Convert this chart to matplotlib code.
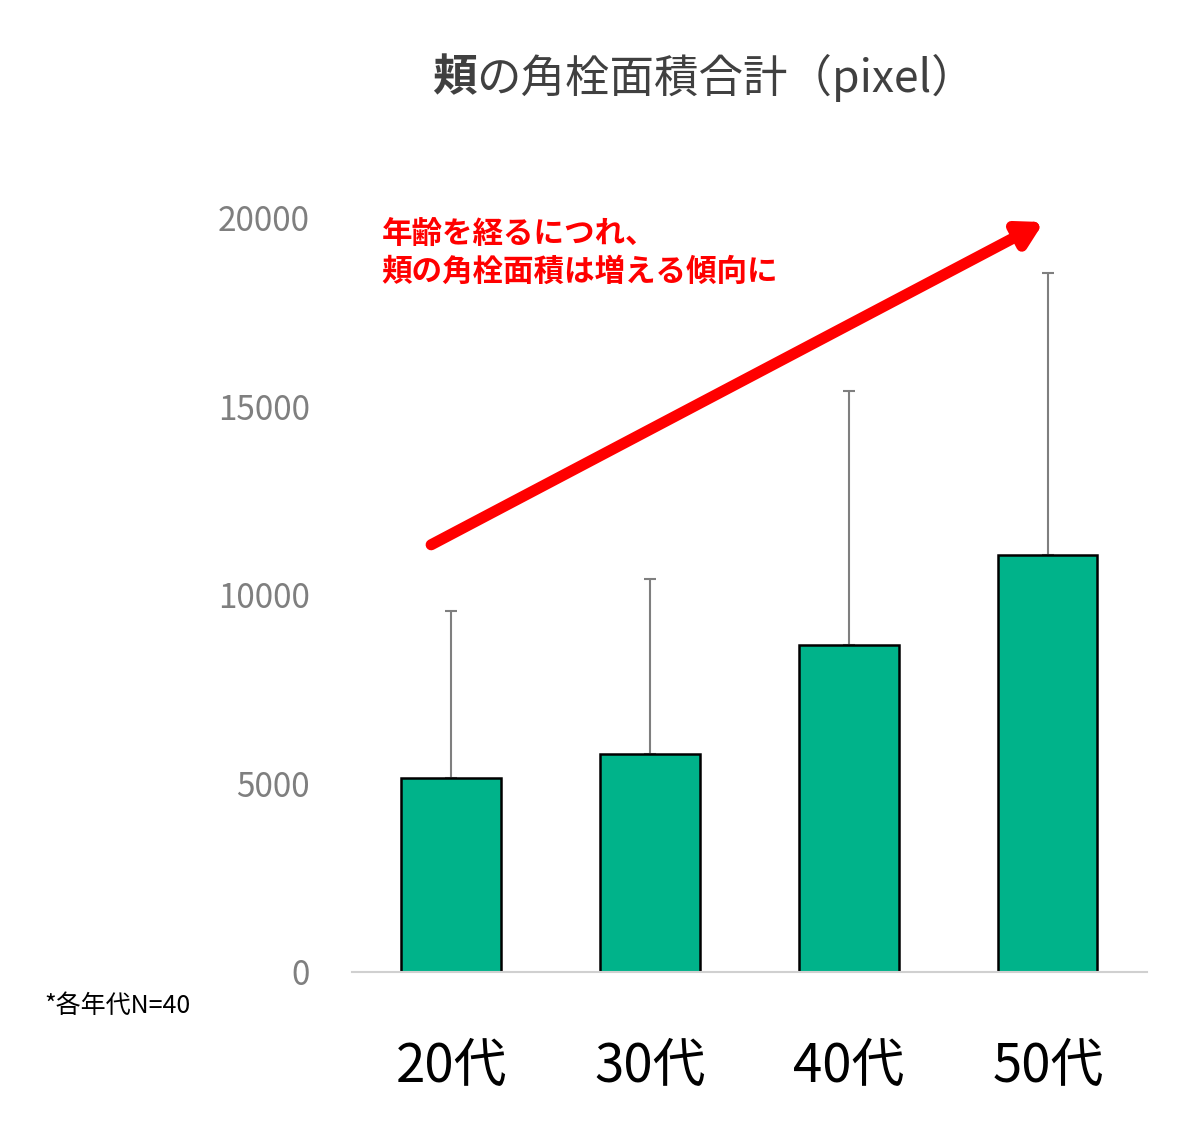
import matplotlib
matplotlib.use("Agg")
import matplotlib.pyplot as plt

plt.rcParams["font.family"] = "Noto Sans CJK JP"

categories = ["20代", "30代", "40代", "50代"]
means = [5150, 5780, 8670, 11060]
sd = [4430, 4640, 6740, 7480]
yticks = [0, 5000, 10000, 15000, 20000]

fig = plt.figure(figsize=(12, 11.21), dpi=100)
ax = fig.add_axes([0.293, 0.133, 0.663, 0.6726])

x = range(len(categories))
ax.bar(x, means, width=0.5, color="#00B38A", edgecolor="black", linewidth=1.8, zorder=2)
ax.errorbar(x, means, yerr=[[0] * len(sd), sd], fmt="none", ecolor="#7f7f7f",
            elinewidth=1.5, capsize=4, capthick=1.5, zorder=1)

ax.set_xlim(-0.5, 3.5)
ax.set_ylim(0, 20000)
ax.set_yticks(yticks)
ax.set_yticklabels([str(v) for v in yticks], fontsize=24, color="#7f7f7f")
ax.set_xticks(list(x))
ax.set_xticklabels(categories, fontsize=38, color="black")
ax.tick_params(axis="both", length=0)
ax.tick_params(axis="y", pad=30)
ax.tick_params(axis="x", pad=48)
for s in ["top", "right", "left"]:
    ax.spines[s].set_visible(False)
ax.spines["bottom"].set_color("#d0d0d0")
ax.spines["bottom"].set_linewidth(1.5)

# trend arrow
ax.annotate("", xy=(2.98, 19890), xytext=(-0.1, 11330),
            arrowprops=dict(arrowstyle="-|>,head_length=1.4,head_width=0.8",
                            color="#ff0000", lw=8, shrinkA=0, shrinkB=0),
            annotation_clip=False)
ax.text(-0.35, 20000, "年齢を経るにつれ、\n頬の角栓面積は増える傾向に", color="#ff0000",
        fontsize=22, fontweight="bold", va="top", ha="left", linespacing=1.25)

# title: first char bold
fig.canvas.draw()
r = fig.canvas.get_renderer()
t1 = fig.text(0.36, 0.93, "頬", fontsize=32, fontweight="bold", color="#404040", va="center")
bb = t1.get_window_extent(renderer=r)
fig.text((bb.x1) / fig.bbox.width, 0.93, "の角栓面積合計（pixel）", fontsize=32,
         color="#404040", va="center")

fig.text(0.037, 0.103, "*各年代N=40", fontsize=18, color="black", va="center")

fig.savefig("out.png")
